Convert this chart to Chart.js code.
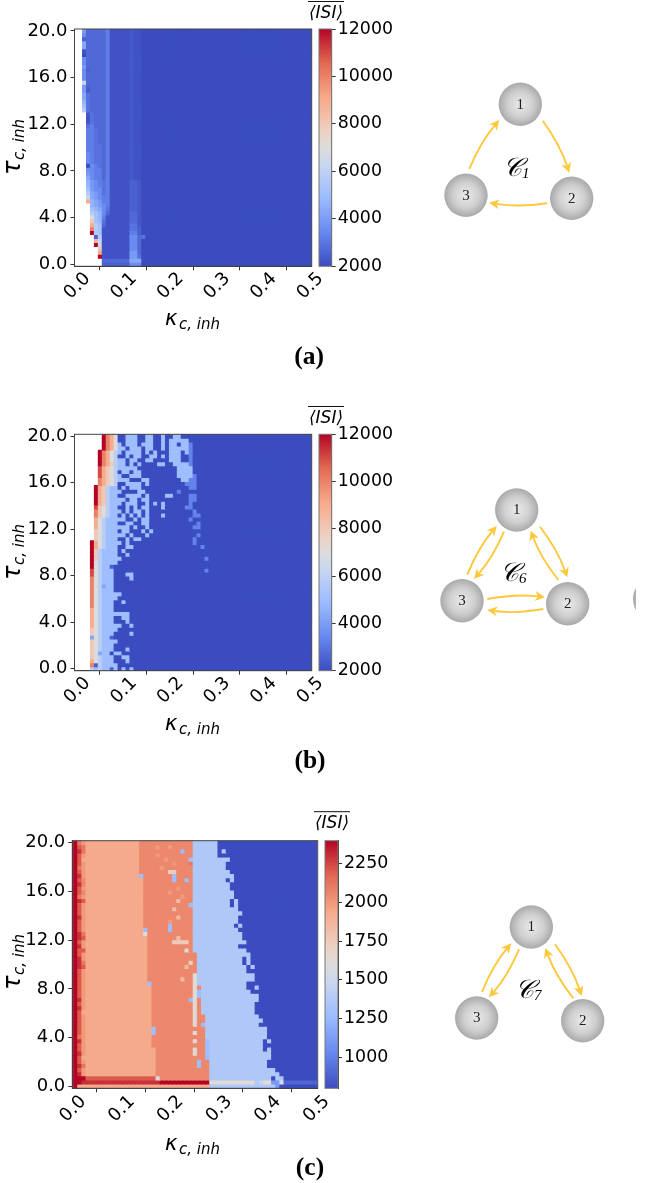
<!DOCTYPE html>
<html><head><meta charset="utf-8">
<script src="https://cdn.jsdelivr.net/npm/chart.js@4"></script>
<style>html,body{margin:0;padding:0;background:#fff;width:646px;height:1183px;overflow:hidden}canvas{position:absolute;display:block}</style>
</head><body>
<script>
// ---------- data ----------
const xTickValues=[0,0.1,0.2,0.3,0.4,0.5];
const yTickValues=[0,4,8,12,16,20];
const cbTicksAB=[2000,4000,6000,8000,10000,12000];
const cbTicksC=[1000,1250,1500,1750,2000,2250];
const gridSize=60;

// each row: top (tau=20) to bottom (tau=0), run-length coded level letters; '.' is an empty cell; the rest of a row is level A
const levelsA={A:2000,B:2150,C:2300,D:2500,E:2700,F:2900,G:3200,H:3500,I:3900,J:4300,K:4700,L:5200,M:5700,N:6300,O:7000,P:8000,Q:9000,R:10000,S:11000,T:12000};
const rowsA=[
"..IE5GB5CB2","..HE5GB5CB2","..DE5GB5CB2","..JE5GB5CB2","..JE5GB5CB2","..BE5GB5CB2","..AE5GB5CB2","..HE5GB5CB2","..HE5GB5CB2","..IE5GB5CB2",
"..HDE4GB5CB2","..HE5GB5CB2","..HE5GB5CB2","..NE5GB5CB2","..IDE4GB5CB2","..ICE4GB5CB2","..JFE4GB5CB2","..JFE4GB5CB2","..KFE4GB5CB2","..LFE4GB5CB2",
"..MFE4GB5CB2","...CFE3GB5CB2","...BFE3GB5CB2","...CFE3GB5CB2","...FGE3GB5CB2","...GGFE2GB5CB2","...GGFE2GB5CB2","...GGFE2GB5CB2","...GGFE2GB5CB2","...GGFFEGB5CB2",
"...GGFFEGB5CB2","...HGFFEGB5CB2","...HGFFEGB5CB2","...HGFFEGB5CB2","...AHGFEGB5CB2","...HHGGEGB5CB2","...IHGGEGB5CB2","...JHGGEGB5CB2","...KIHGFGB5D2C","...KIHGFGB5D2C",
"...LIHHFGB5D2C","...MJIHFGB5D2C","...NJIHGGB5D2C","...QKJIGGB5D2C","....KJIHGB5D2C","....LKJHFB5D2C","....MLKHEB5E2C","....OLKGB6E2C","....PLKFB6E2C","....QMLEB6F2C",
"....RMLB7F2D","....TMLB7G2D",".....DMB7H2EF",".....QNB7H2E",".....TNB7H2E","......PB7H2E","......QB7I2E","......TB7I2F",".......E7J3",".......D7H3"];

const levelsB={A:2000,B:2500,C:3300,D:4200,E:5000,F:5800,G:7000,H:8000,I:9000,J:10000,K:11000,L:12000};
const rowsB=[
".7LJIGA2E3A2E2A2EA2E2",".7LJIGA2E3A2E2A2EAE5",".7LJIGEAE3AE3A2EAE2AE2C",".7LJIGE2AE3AE2A2EAE5C",".6LJIGFEAE4AEAEA3E3AEC",
".6LJIGFA2EAE2A2E2AEAE3A2C",".6LJIGFE2AE2A2E2A4E3A2C",".6LJIHFE2AEAEA4E2A2E4C",".6KIHGFE5A10E4",".6KIHGFAE2AE2A9E4",
".6KIHGFEA2E3A9E4C",".6JIHGFE3A3E2A8E2C2",".6JIHGFA2E4AEA9C3",".5LIHFE2AEAE3A12C2",".5LIHFE3A4E2A8C",
".5LIHFE2A2E4AEA4E2A4C2",".5LIHFE4AE2AE2A10C2",".5LIHFE3AE3A2EAEAEA6C",".5KHGFE2A2EAEAE2A3EA5C2",".5JHGFE3AEAE2AEA11C",
".5JHGFE2AEAEAEAEA3EA7C2",".5IGFE5A2EAE2A10C",".5IGFE3A2E2A2E2A12C",".5IGFE6AEA2EA11C2",".5HGFE3AE2A3EAE",
".5HGFE5AEA3EA12C",".5HGFE3A2EAE2A13C",".4LIGFE4AEA16C",".4LIGFE3A2E2A17C",".4LHFE4AE",
".4LHFE4A2E",".4LHFE5A21C",".4LGFE4",".4LGFE2B",".4KGFE3A23C",
".4KGFE3A3E2",".4JGFE3A4E",".4JGFE3",".4JGFDE2",".4JGFE3",
".4JGFE5",".4JGFE4",".4JGFE3A2E",".4JGFE3",".4IGFE3",
".4IGFE7",".4IGFE3A2E2",".4IGFE3A3E",".4IGFE5A2E",".4HGFE4",
".4HGFE3A4E",".4DGFE2B",".4HGFE4",".4HGFE3",".4HGFE3A3E",
".4HGDE2AE2",".4HGFE3A2E2",".4IGFE3A3E",".4JBFE4",".4FEFE2BEAEAE"];

const levelsC={A:800,B:900,C:1100,D:1280,E:1360,F:1450,G:1620,H:1740,I:1840,J:1930,K:2000,L:2060,M:2120,N:2200,O:2300,P:2400};
const rowsC=[
".PMKJ13L13E6",".PNMJ13L4KL2KL5E6",".POMJ13L10DL2E6AE",".PNKJ13L4KL8E6",".PNJ14L6KL5DE9",".PNKJ13L8KL3ME8",".PMKJ13L5KL7E8",".PNKJ13L7H2L4E9",".POKJ13DL7DL4E10",".PNLJ14L7DL2DLE8AE",
".POLJ14L12E9",".PNKJ14L8KL3E9",".PNLJ14L6KL5E10",".PMKJ14L9KL2E10",".PONJ14L8IL3E9AE",".PNKJ14L11DE9AE",".PNKJ14L7IL4E11",".PNKJ14L12E12",".POKJ14L8IL3E11",".PNKJ14L6KL5E11",
".PNKJ14L6DL5E10AE",".PNKJ14DL5DL5E11",".POMJ14GL11E12",".PONJ15L7IL3E12",".PNKJ15L6H4LE13",".POKJ15L11E11",".PNNJ15L9GLE13",".PNKJ15L12E13",".POKJ15L12E11AE",".POMJ15L10HLE11AE",
".PONJ15L9IL2E12AE",".PNKJ15L12E12",".PNKJ15L11GE14",".PNKJ15L8IL2GE14",".PNKJ15DL10GE12",".PNKJ16L10GLE11A2E",".PNKJ16L10GDE12",".PNKJ16L10GDE14",".POKJ16L9DGLE14",".PNKJ16L10GLE13",
".POKJ16L10GLE13",".PNJ17L10GLE13",".PNKJ16L10GL2E13",".PNKJ16L10GL2E14",".PNKJ16L10GLDE13",".PNKJ16DL12E15",".PNKJ16DL9GL2E15",".PMKJ16L13E15",".POKJ16L10GL2DE13AE",".PNKJ16L13DE13",
".PNKJ17L9GL2DE13AE",".POKJ17L9GL2DE15",".PNJ18L12DE15",".PNKJ17L10DL2E14",".POMJ17L10DL2E14",".PNKJ17L13E16",".POKJ17L13E17",".P3N17GL12E15AE2",".P2O19P12G11EFG2C2GB8",".PJ32E16C"];

const axisTitleX=["\u03BA","c, inh"], axisTitleY=["\u03C4","c, inh"], colorbarTitle="\u27E8ISI\u27E9";
const nodeLabels=["1","2","3"];
const panelLetters=["(a)","(b)","(c)"];
const diagramNames=[["\uD835\uDC9E","1"],["\uD835\uDC9E","6"],["\uD835\uDC9E","7"]];

// ---------- colours ----------
const coolwarmStops=[[0,59,76,192],[1/7,103,136,238],[2/7,154,187,255],[3/7,201,215,240],[.5,221,220,220],[4/7,237,209,194],[5/7,247,168,137],[6/7,226,105,82],[1,180,4,38]];
function coolwarm(t){t=Math.max(0,Math.min(1,t));
 for(let i=1;i<coolwarmStops.length;i++){const a=coolwarmStops[i-1],b=coolwarmStops[i];
  if(t<=b[0]){const f=(t-a[0])/(b[0]-a[0]);return `rgb(${[1,2,3].map(k=>Math.round(a[k]+(b[k]-a[k])*f)).join(',')})`;}}
 return 'rgb(180,4,38)';}
function decodeRow(s,levels){const out=[];s.replace(/([A-Z.])(\d*)/g,(m,c,n)=>{for(let i=0,k=n?+n:1;i<k;i++)out.push(c==='.'?null:levels[c]);return m;});
 while(out.length<gridSize)out.push(levels.A);return out.slice(0,gridSize);}

const FONT='"DejaVu Sans"';
const commonAxis={border:{display:true,color:'#333',width:1},grid:{drawOnChartArea:false,drawTicks:true,tickLength:4,color:'#333',tickWidth:1}};

function setFixed(w,h){return s=>{if(w!=null)s.width=w;if(h!=null)s.height=h;s.paddingLeft=s.paddingRight=s.paddingTop=s.paddingBottom=0;};}
function mk(left,top,w,h){const c=document.createElement('canvas');c.width=w;c.height=h;c.style.left=left+'px';c.style.top=top+'px';c.style.width=w+'px';c.style.height=h+'px';document.body.appendChild(c);return c.getContext('2d');}
const frame=(color)=>({id:'frame',afterDraw(ch){const a=ch.chartArea,c=ch.ctx;c.save();c.strokeStyle=color;c.lineWidth=1;c.strokeRect(a.left,a.top,a.right-a.left,a.bottom-a.top);c.restore();}});

function heatmap(p){
 const tauHalf=10/(gridSize-1);
 const datasets=p.rows.map((s,j)=>{
  const vals=decodeRow(s,p.levels),tau=(gridSize-1-j)*20/(gridSize-1),data=[],colors=[];
  vals.forEach((v,i)=>{if(v==null)return;data.push({x:i*0.5/(gridSize-1)+p.shift,y:[tau-tauHalf,tau+tauHalf]});colors.push(coolwarm((v-p.vmin)/(p.vmax-p.vmin)));});
  return {data,backgroundColor:colors,borderWidth:0,inflateAmount:0.4,grouped:false,barPercentage:1,categoryPercentage:1};
 });
 const canvasTop=p.canvasTop,W=p.canvasW,axisH=50,extra=45,H=Math.ceil(p.bottom-canvasTop+axisH+extra);
 new Chart(mk(0,canvasTop,W,H),{type:'bar',data:{datasets},
  options:{responsive:false,animation:false,events:[],
   layout:{padding:{left:0,right:W-p.right,top:p.top-canvasTop,bottom:H-(p.bottom-canvasTop)-axisH}},
   plugins:{legend:{display:false},tooltip:{enabled:false}},
   scales:{
    x:{type:'linear',offset:false,min:p.xmin,max:p.xmax,...commonAxis,
       afterBuildTicks:s=>{s.ticks=xTickValues.map(value=>({value}));},
       afterFit:setFixed(null,axisH),
       ticks:{autoSkip:false,minRotation:45,maxRotation:45,padding:p.xPad,labelOffset:11,color:'#000',font:{family:FONT,size:18},callback:v=>(+v).toFixed(1)}},
    y:{type:'linear',min:-0.17,max:20.17,...commonAxis,
       afterBuildTicks:s=>{s.ticks=yTickValues.map(value=>({value}));},
       afterFit:setFixed(p.left,null),
       ticks:{padding:3,color:'#000',font:{family:FONT,size:18},callback:v=>(+v).toFixed(1)}}
   }},
  plugins:[frame('#444'),{id:'titles',afterDraw(ch){const c=ch.ctx;c.save();c.fillStyle='#000';c.textBaseline='alphabetic';c.textAlign='left';
    const y0=p.xTitleY-canvasTop;
    c.font=`italic 21px ${FONT}`;c.fillText(axisTitleX[0],p.xTitleX,y0);
    c.font=`italic 15px ${FONT}`;c.fillText(axisTitleX[1],p.xTitleX+14,y0+4);
    c.translate(p.yTitleX,p.yTitleY-canvasTop);c.rotate(-Math.PI/2);
    c.font=`italic 24px ${FONT}`;c.fillText(axisTitleY[0],0,0);
    c.font=`italic 15px ${FONT}`;c.fillText(axisTitleY[1],15,4);
    c.restore();}}]
 });
}
function colorbar(p){
 const W=100,H=Math.ceil(p.bottom-p.canvasTop+10);
 new Chart(mk(p.cbLeft-7,p.canvasTop,W,H),{type:'bar',data:{labels:['c'],datasets:[{data:[[p.vmin,p.vmax]],borderWidth:0,barPercentage:1,categoryPercentage:1,
   backgroundColor:ctx=>{const a=ctx.chart.chartArea;if(!a)return '#888';const g=ctx.chart.ctx.createLinearGradient(0,a.bottom,0,a.top);coolwarmStops.forEach(s=>g.addColorStop(s[0],`rgb(${s[1]},${s[2]},${s[3]})`));return g;}}]},
  options:{responsive:false,animation:false,events:[],
   layout:{padding:{left:7,right:0,top:p.top-p.canvasTop,bottom:H-(p.bottom-p.canvasTop)}},
   plugins:{legend:{display:false},tooltip:{enabled:false}},
   scales:{x:{display:false},
    y:{position:'right',min:p.vmin,max:p.vmax,...commonAxis,
     afterBuildTicks:s=>{s.ticks=p.cbTicks.map(value=>({value}));},
     afterFit:setFixed(W-7-p.cbW,null),
     ticks:{padding:2,color:'#000',font:{family:FONT,size:17.4},callback:v=>String(v)}}}},
  plugins:[frame('#777')]});
}
const panels=[
 {rows:rowsA,levels:levelsA,vmin:2000,vmax:12000,cbTicks:cbTicksAB,canvasTop:0,top:29,bottom:266.3,left:74.5,right:311.7,canvasW:336,xmin:-0.0043,xmax:0.5047,shift:0,xPad:-2,
  cbLeft:319,cbW:12.7,xTitleX:165,xTitleY:325,yTitleX:20,yTitleY:175},
 {rows:rowsB,levels:levelsB,vmin:2000,vmax:12000,cbTicks:cbTicksAB,canvasTop:405,top:434.3,bottom:670.7,left:74.5,right:311.7,canvasW:336,xmin:-0.0043,xmax:0.5047,shift:0,xPad:-2,
  cbLeft:319,cbW:12.7,xTitleX:165,xTitleY:730,yTitleX:20,yTitleY:580},
 {rows:rowsC,levels:levelsC,vmin:800,vmax:2400,cbTicks:cbTicksC,canvasTop:805,top:840.7,bottom:1088.3,left:72.3,right:317.7,canvasW:342,xmin:0,xmax:0.5041,shift:-0.0018,xPad:-1,
  cbLeft:325.3,cbW:13,xTitleX:165,xTitleY:1150,yTitleX:20,yTitleY:990}
];
panels.forEach(p=>{heatmap(p);colorbar(p);});

// ---------- network diagrams + page text on one overlay chart ----------
const nodesA=[{x:520.3,y:104.3,r:21.7,label:0},{x:571.7,y:198.3,r:21.7,label:1},{x:466,y:195.3,r:21.7,label:2}];
const nodesB=[{x:516.7,y:510,r:21.7,label:0},{x:567.7,y:603.7,r:21.7,label:1},{x:462,y:600.7,r:21.7,label:2}];
const nodesC=[{x:531.3,y:927,r:21.7,label:0},{x:582.7,y:1020.7,r:21.7,label:1},{x:476.7,y:1018,r:21.7,label:2}];
const nodeCut=[{x:655,y:599,r:22,label:null}];
const arrowsA=[[542.7,120.7,569.3,172.7],[547.3,203.3,489.3,202.7],[469.3,169,499.3,120]];
const arrowsB=[[540,526.7,567.3,577.3],[558.3,580,530.7,530.7],[467.3,574.7,496.7,526],[504,531.7,474,579],[487.3,599,545,597.3],[543.3,609,487.3,610]];
const arrowsC=[[482,992,511.3,943.3],[519,949.3,489,997.3],[555,944.3,581.7,996],[573.3,998.3,545.3,948]];
const diagramNamePos=[[518,176],[515,581],[530,997.5]];
const letterPos=[[309,364],[310,768],[310,1175]];
const cbTitlePos=[[326,1.5],[326,406.5],[332,811.7]];
const allNodes=[...nodesA,...nodesB,...nodesC,...nodeCut];

new Chart(mk(0,0,636,1183),{type:'bubble',
 data:{datasets:[{data:allNodes,clip:false,borderWidth:0,hoverBorderWidth:0,
   backgroundColor:ctx=>{const n=ctx.raw;if(!n||n.x==null)return '#bbb';
     const g=ctx.chart.ctx.createRadialGradient(n.x,n.y,2,n.x,n.y,n.r);g.addColorStop(0,'#e6e6e6');g.addColorStop(.55,'#cfcfcf');g.addColorStop(1,'#a9a9a9');return g;}}]},
 options:{responsive:false,animation:false,events:[],layout:{padding:0,autoPadding:false},
  plugins:{legend:{display:false},tooltip:{enabled:false}},
  scales:{x:{type:'linear',display:false,min:0,max:636},y:{type:'linear',display:false,min:0,max:1183,reverse:true}}},
 plugins:[{id:'net',afterDatasetsDraw(ch){const c=ch.ctx;c.save();
   const col='#fdc83c';
   [...arrowsA,...arrowsB,...arrowsC].forEach(([x0,y0,x1,y1])=>{
    const dx=x1-x0,dy=y1-y0,len=Math.hypot(dx,dy),nx=dy/len,ny=-dx/len,b=4.5,cx=(x0+x1)/2+nx*b,cy=(y0+y1)/2+ny*b;
    const ang=Math.atan2(y1-cy,x1-cx),hl=10,hw=5;
    const bx=x1-Math.cos(ang)*hl*.7,by=y1-Math.sin(ang)*hl*.7;
    c.strokeStyle=col;c.lineWidth=1.9;c.beginPath();c.moveTo(x0,y0);c.quadraticCurveTo(cx,cy,bx,by);c.stroke();
    c.fillStyle=col;c.beginPath();c.moveTo(x1,y1);
    c.lineTo(x1-Math.cos(ang)*hl-Math.sin(ang)*hw,y1-Math.sin(ang)*hl+Math.cos(ang)*hw);
    c.lineTo(bx,by);
    c.lineTo(x1-Math.cos(ang)*hl+Math.sin(ang)*hw,y1-Math.sin(ang)*hl-Math.cos(ang)*hw);c.closePath();c.fill();
   });
   c.fillStyle='#222';c.textAlign='center';c.textBaseline='middle';c.font='15px "Liberation Serif"';
   allNodes.forEach(n=>{if(n.label!=null)c.fillText(nodeLabels[n.label],n.x,n.y+0.5);});
   c.textBaseline='alphabetic';
   diagramNames.forEach((d,i)=>{const [x,y]=diagramNamePos[i];c.fillStyle='#000';c.textAlign='right';c.font='italic 26px "DejaVu Serif","Liberation Serif"';c.fillText(d[0],x+4,y);
     c.textAlign='left';c.font='italic 15px "Liberation Serif"';c.fillText(d[1],x+4,y+2);});
   c.textAlign='center';c.font='bold 25.5px "Liberation Serif"';
   panelLetters.forEach((t,i)=>c.fillText(t,letterPos[i][0],letterPos[i][1]));
   c.font=`italic 17px ${FONT}`;c.textBaseline='alphabetic';
   cbTitlePos.forEach(([x,y])=>{c.fillText(colorbarTitle,x,y+16.5);c.strokeStyle='#111';c.lineWidth=1;c.beginPath();c.moveTo(x-18,y);c.lineTo(x+18,y);c.stroke();});
   c.restore();}}]
});
</script>
</body></html>
